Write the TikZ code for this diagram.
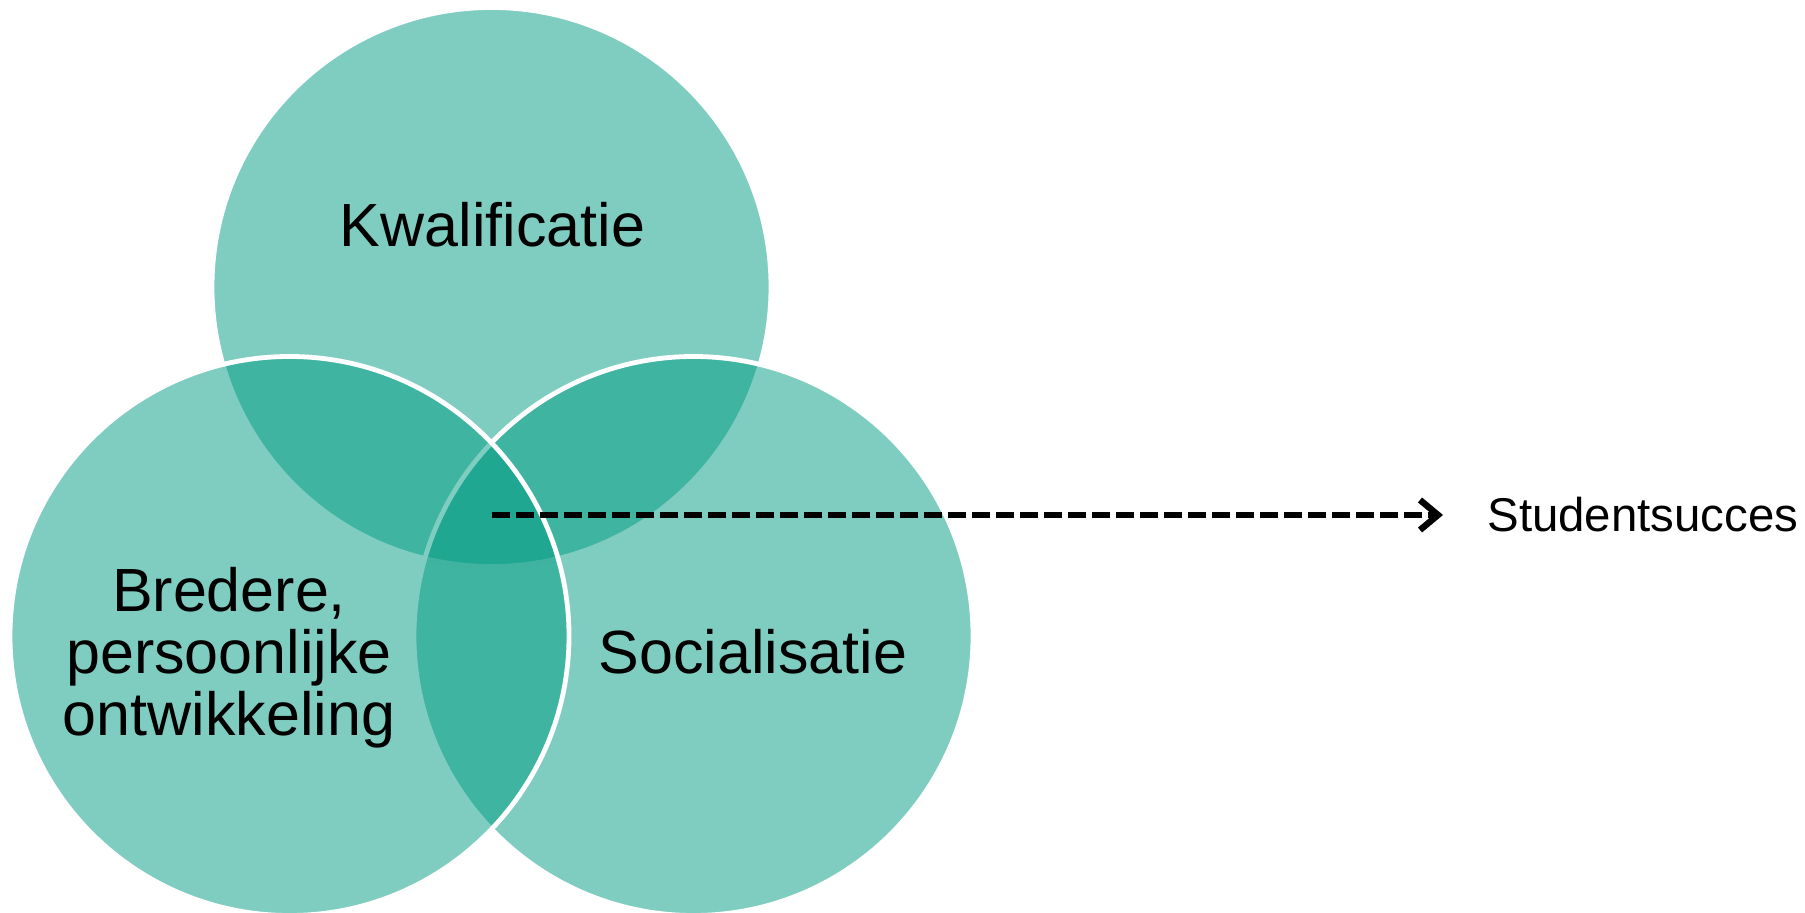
\documentclass[tikz,border=0pt]{standalone}
\usepackage{fontspec}
\setmainfont{Liberation Sans}
\usepackage{tikz}
\usetikzlibrary{arrows.meta}
\definecolor{venn}{RGB}{0,155,130}

\begin{document}
\begin{tikzpicture}[x=0.5pt,y=-0.5pt,
        disc/.style={draw=white,line width=2.4pt,fill=venn,fill opacity=0.5},
        vtext/.style={font=\fontsize{30.5}{31}\selectfont,inner sep=0pt,align=center},
        flow/.style={line width=3.2pt,dash pattern=on 9pt off 3pt,
            -{Straight Barb[length=9pt,width=15pt]}}]
        \pgfmathsetmacro\r{279.5*0.5}
        \useasboundingbox (0,0) rectangle (1805,913);
        \coordinate (K) at (491.5,287);
        \coordinate (B) at (289.5,636);
        \coordinate (S) at (693.5,636);
        \coordinate (M) at (491.5,515);
        % top first, then right, left last (its rim stays white)
        \draw[disc] (K) circle [radius=\r pt];
        \draw[disc] (S) circle [radius=\r pt];
        \draw[disc] (B) circle [radius=\r pt];
        \node[vtext,anchor=base] (kwal) at (492.5,247) {Kwalificatie};
        \node[vtext,anchor=base] (soc) at (753,674) {Socialisatie};
        \node[vtext] (bred) at (229,658) {Bredere,\\persoonlijke\\ontwikkeling};
        \node[anchor=west,inner sep=0pt,font=\fontsize{23.7}{28}\selectfont] (succ) at (1487,515) {Studentsucces};
        \draw[flow,shorten >=22pt] (M) -- (succ.west);
    \end{tikzpicture}
\end{document}
